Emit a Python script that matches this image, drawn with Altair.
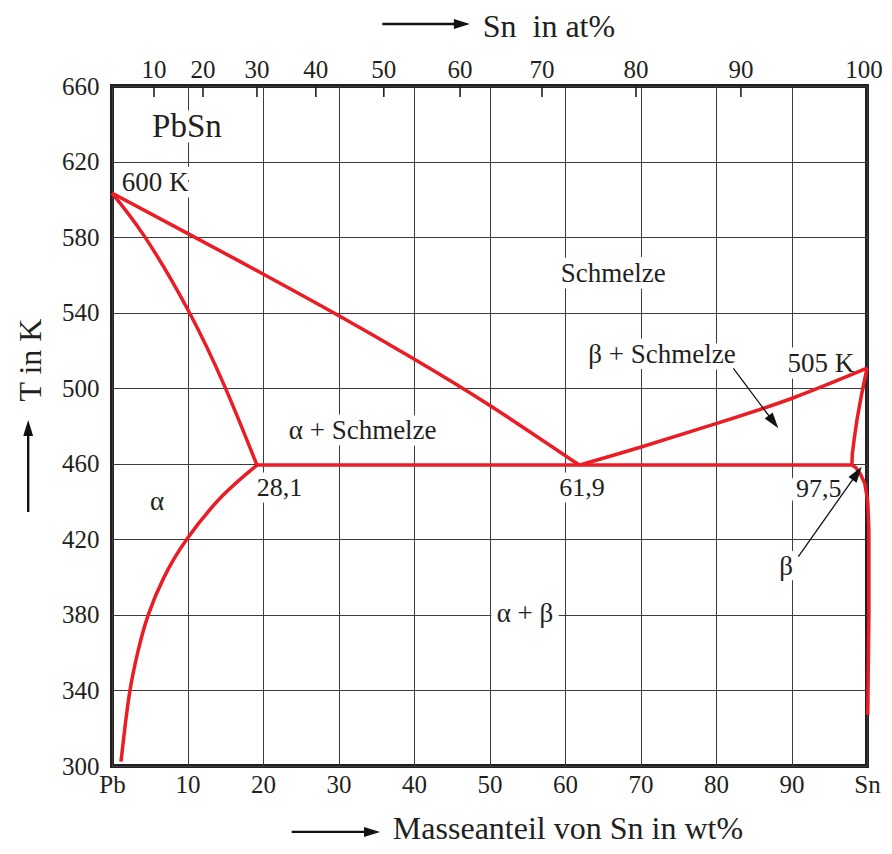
import math
import altair as alt
import pandas as pd

# ---------------- data ----------------
W, H = 755, 680
X_DOM = [0, 100]
T_DOM = [300, 660]
PX = W / (X_DOM[1] - X_DOM[0])
PY = H / (T_DOM[1] - T_DOM[0])

wt_ticks = [0, 10, 20, 30, 40, 50, 60, 70, 80, 90, 100]
T_ticks = [300, 340, 380, 420, 460, 500, 540, 580, 620, 660]

# top axis: at% labels and their positions on the wt% scale
at_labels = ["10", "20", "30", "40", "50", "60", "70", "80", "90", "100"]
at_pos_wt = [5.56, 12.05, 19.2, 27.0, 36.0, 46.1, 56.95, 69.4, 83.3, 100]

# phase boundaries (wt% Sn, T in K)
liq_left_x = [0, 10, 20, 30, 40, 50, 61.9]
liq_left_T = [603.3, 582.0, 560.5, 538.5, 515.5, 491.0, 459.3]
liq_right_x = [61.9, 70.2, 80.1, 90.1, 100]
liq_right_T = [459.3, 469.0, 481.4, 494.7, 510.6]
sol_a_x = [0, 4.37, 10.07, 14.97, 19.2]
sol_a_T = [603.3, 580.0, 541.4, 500.6, 459.3]
solv_a_x = [1.19, 1.70, 2.38, 3.40, 4.8, 6.9, 9.9, 14.5, 19.2]
solv_a_T = [302.3, 320.0, 340.0, 360.0, 380.0, 400.0, 420.0, 442.5, 459.3]
eut_x = [19.2, 98.0]
eut_T = [459.3, 459.3]
sol_b_x = [100, 99.3, 98.7, 98.3, 98.05, 98.0]
sol_b_T = [510.6, 497.0, 484.0, 473.0, 465.0, 459.3]
solv_b_x = [98.0, 98.5, 99.07, 99.7, 100.1, 100.25, 100.25, 100.1]
solv_b_T = [459.3, 458.0, 455.0, 449.7, 440.0, 425.0, 380.0, 327.0]

# in-plot labels (centre x, baseline T)
lab_text = ["PbSn", "600 K", "Schmelze", "β + Schmelze", "505 K", "α + Schmelze",
            "28,1", "61,9", "97,5", "α", "α + β", "β"]
lab_x = [9.93, 5.7, 66.4, 72.85, 93.9, 33.2, 22.2, 62.25, 93.6, 5.96, 54.7, 89.3]
lab_T = [633.2, 604.6, 556.2, 513.2, 508.4, 473.0, 442.9, 442.9, 442.3, 435.5, 376.4, 401.1]
lab_size = [33, 27, 27, 27, 27, 27, 26, 26, 26, 27, 27, 27]

# arrows: start -> tip
arr_x0 = [82.3, 90.9, 23.8, 35.8, -11.1]
arr_T0 = [510.5, 410.8, 265.1, 692.8, 434.5]
arr_x1 = [88.25, 99.3, 35.5, 47.4, -11.1]
arr_T1 = [478.8, 458.4, 265.1, 692.8, 483.2]
arr_w = [1.3, 1.3, 2.4, 2.4, 2.4]

# axis titles drawn as text (left x, baseline T)
title_text = ["Masseanteil von Sn in wt%", "Sn\u00a0 in at%"]
title_x = [37.2, 49.1]
title_T = [261.4, 686.0]

FONT = "Liberation Serif"
INK = "#231f20"
RED = "#ec1c24"

# ---------------- tables ----------------
rows = []
for name, xs_, ts_ in [("liqL", liq_left_x, liq_left_T), ("liqR", liq_right_x, liq_right_T),
                       ("solA", sol_a_x, sol_a_T), ("solvA", solv_a_x, solv_a_T),
                       ("eut", eut_x, eut_T)]:
    for i, (a, b) in enumerate(zip(xs_, ts_)):
        rows.append({"curve": name, "x": a, "T": b, "o": i})
curves_smooth = pd.DataFrame(rows)

rows = []
for name, xs_, ts_ in [("solB", sol_b_x, sol_b_T), ("solvB", solv_b_x, solv_b_T)]:
    for i, (a, b) in enumerate(zip(xs_, ts_)):
        rows.append({"curve": name, "x": a, "T": b, "o": i})
curves_lin = pd.DataFrame(rows)

HEAD = 16
arows = []
for x0, t0, x1, t1, w in zip(arr_x0, arr_T0, arr_x1, arr_T1, arr_w):
    dx = (x1 - x0) * PX
    dy = -(t1 - t0) * PY
    L = math.hypot(dx, dy)
    ux, uy = dx / L, dy / L
    back = HEAD * 0.6
    arows.append({
        "x": x0, "T": t0,
        "xe": x1 - ux * back / PX, "Te": t1 + uy * back / PY,
        "xt": x1, "Tt": t1,
        "ang": math.degrees(math.atan2(dx, -dy)) % 360,
        "w": w,
    })
arrows = pd.DataFrame(arows)

labels = pd.DataFrame({"label": lab_text, "x": lab_x, "T": lab_T, "size": lab_size})
top_df = pd.DataFrame({"label": at_labels, "x": at_pos_wt, "T": [T_DOM[1]] * len(at_labels)})
titles = pd.DataFrame({"label": title_text, "x": title_x, "T": title_T})
ytitle = pd.DataFrame({"label": ["T in K"], "x": [-9.4], "T": [514.9]})

# ---------------- encodings ----------------
xs = alt.Scale(domain=X_DOM, nice=False, zero=False)
ys = alt.Scale(domain=T_DOM, nice=False, zero=False)

x_axis = alt.Axis(values=wt_ticks, title=None, grid=True, ticks=False, domain=False,
                  labelExpr="datum.value == 0 ? 'Pb' : (datum.value == 100 ? 'Sn' : datum.label)",
                  labelBaseline="top", labelPadding=6, labelFlush=False, labelOverlap=False,
                  labelBound=False)
y_axis = alt.Axis(values=T_ticks, title=None, grid=True, ticks=False, domain=False,
                  labelPadding=13, labelFlush=False, labelOverlap=False, labelBound=False)


def X(field="x"):
    return alt.X(f"{field}:Q", scale=xs, axis=x_axis)


def Y(field="T"):
    return alt.Y(f"{field}:Q", scale=ys, axis=y_axis)


# halos behind labels (white boxes breaking the grid)
halo = alt.Chart(labels).mark_text(font=FONT, align="center", baseline="alphabetic",
                                   color="white", stroke="white", strokeWidth=13,
                                   strokeJoin="round").encode(
    x=X(), y=Y(), text="label:N",
    size=alt.Size("size:Q", scale=None))

lines_smooth = alt.Chart(curves_smooth).mark_line(color=RED, strokeWidth=3.5,
                                                  interpolate="natural").encode(
    x=X(), y=Y(), detail="curve:N", order="o:Q")

lines_lin = alt.Chart(curves_lin).mark_line(color=RED, strokeWidth=3.5,
                                            strokeJoin="round").encode(
    x=X(), y=Y(), detail="curve:N", order="o:Q")

arrow_lines = alt.Chart(arrows).mark_rule(color="#111111").encode(
    x=X(), y=Y(), x2="xe:Q", y2="Te:Q",
    strokeWidth=alt.StrokeWidth("w:Q", scale=None))

arrow_heads = alt.Chart(arrows).mark_point(
    shape="M0,0L0.62,2L-0.62,2Z", filled=True, opacity=1, color="#111111",
    size=HEAD * HEAD, strokeWidth=0).encode(
    x=X("xt"), y=Y("Tt"), angle=alt.Angle("ang:Q", scale=None))

texts = alt.Chart(labels).mark_text(font=FONT, align="center", baseline="alphabetic",
                                    color=INK).encode(
    x=X(), y=Y(), text="label:N", size=alt.Size("size:Q", scale=None))

top_ticks = alt.Chart(top_df[top_df["label"] != "100"]).mark_rule(
    color=INK, strokeWidth=1.6).encode(
    x=X(), y=alt.value(0), y2=alt.value(11))

top_labels = alt.Chart(top_df[top_df["label"] != "100"]).mark_text(
    font=FONT, fontSize=25, align="center", baseline="alphabetic", dy=-8, color=INK).encode(
    x=X(), y=Y(), text="label:N")

top_label_last = alt.Chart(top_df[top_df["label"] == "100"]).mark_text(
    font=FONT, fontSize=25, align="center", baseline="alphabetic", dy=-8, dx=-3,
    color=INK).encode(
    x=X(), y=Y(), text="label:N")

title_marks = alt.Chart(titles).mark_text(font=FONT, fontSize=32, align="left",
                                          baseline="alphabetic", color=INK).encode(
    x=X(), y=Y(), text="label:N")

ytitle_mark = alt.Chart(ytitle).mark_text(font=FONT, fontSize=32, align="center",
                                          baseline="alphabetic", angle=270, color=INK).encode(
    x=X(), y=Y(), text="label:N")

chart = alt.layer(
    halo, lines_smooth, lines_lin, arrow_lines, arrow_heads, texts,
    top_ticks, top_labels, top_label_last, title_marks, ytitle_mark,
).properties(
    width=W, height=H,
    padding={"left": 104, "top": 78, "right": 17, "bottom": 80},
    autosize=alt.AutoSizeParams(type="none"),
).configure_view(
    stroke=INK, strokeWidth=4,
).configure_axis(
    labelFont=FONT, labelFontSize=25, labelColor=INK,
    gridColor="#3c3c3c", gridWidth=1, gridOpacity=1,
)

chart.save("out.html", embed_options={"renderer": "svg", "actions": False})
